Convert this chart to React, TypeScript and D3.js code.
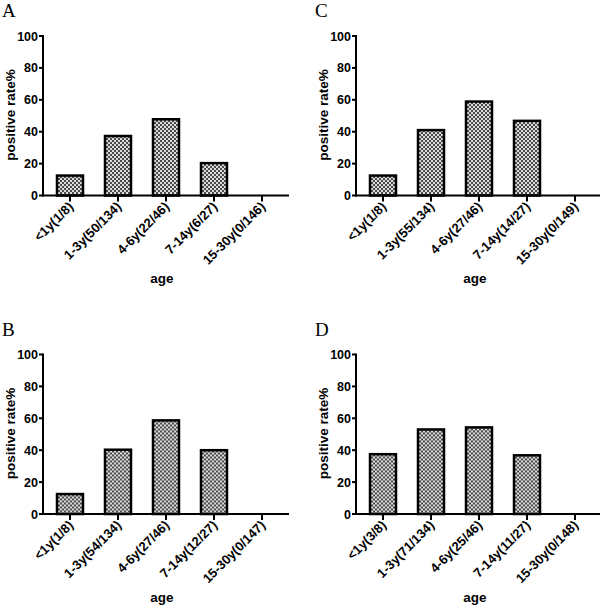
import React from "react";
import * as d3 from "d3";

const categoriesA = ["<1y(1/8)", "1-3y(50/134)", "4-6y(22/46)", "7-14y(6/27)", "15-30y(0/146)"];
const valuesA = [12.5, 37.3, 47.8, 20.3, 0];
const categoriesB = ["<1y(1/8)", "1-3y(54/134)", "4-6y(27/46)", "7-14y(12/27)", "15-30y(0/147)"];
const valuesB = [12.5, 40.3, 58.7, 40.0, 0];
const categoriesC = ["<1y(1/8)", "1-3y(55/134)", "4-6y(27/46)", "7-14y(14/27)", "15-30y(0/149)"];
const valuesC = [12.5, 41.0, 58.9, 46.8, 0];
const categoriesD = ["<1y(3/8)", "1-3y(71/134)", "4-6y(25/46)", "7-14y(11/27)", "15-30y(0/148)"];
const valuesD = [37.5, 53.0, 54.3, 36.8, 0];
const yTicks = [0, 20, 40, 60, 80, 100];
const panelLetters = ["A", "B", "C", "D"];
const yTitle = "positive rate%";
const xTitle = "age";

const SANS = "Liberation Sans, Arial, Helvetica, sans-serif";

type PanelProps = { ox: number; oy: number; letter: string; cats: string[]; vals: number[] };

function Panel({ ox, oy, letter, cats, vals }: PanelProps) {
  const x0 = 43, x1 = 289;
  const yBottom = 195.5, yTop = 36;
  const x = d3.scalePoint<string>().domain(cats).range([x0, x1]).padding(0.5625);
  const y = d3.scaleLinear().domain([0, 100]).range([yBottom, yTop]);
  const bw = 26;
  return (
    <g transform={`translate(${ox},${oy})`}>
      <text x={2} y={17} fontFamily="Liberation Serif, Times New Roman, serif" fontSize={19}>{letter}</text>
      {cats.map((c, i) => (
        <rect key={c} x={(x(c) as number) - bw / 2} y={y(vals[i])} width={bw}
          height={yBottom - y(vals[i])} fill="url(#checker)" stroke="#000" strokeWidth={2.5} />
      ))}
      <line x1={x0} x2={x0} y1={y(100) - 1} y2={yBottom + 1} stroke="#000" strokeWidth={2} />
      {yTicks.map((t) => (
        <g key={t}>
          <line x1={x0 - 4} x2={x0} y1={y(t)} y2={y(t)} stroke="#000" strokeWidth={2} />
          <text x={x0 - 5} y={y(t)} dy="0.36em" textAnchor="end" fontFamily={SANS}
            fontWeight="bold" fontSize={12.5}>{t}</text>
        </g>
      ))}
      <line x1={x0 - 1} x2={x1} y1={yBottom} y2={yBottom} stroke="#000" strokeWidth={2} />
      {cats.map((c) => (
        <g key={c}>
          <line x1={x(c) as number} x2={x(c) as number} y1={yBottom} y2={yBottom + 6} stroke="#000" strokeWidth={2} />
          <text transform={`translate(${(x(c) as number) + 4},${yBottom + 12}) rotate(-45)`}
            textAnchor="end" fontFamily={SANS} fontWeight="bold" fontSize={13}>{c}</text>
        </g>
      ))}
      <text transform={`translate(15,${115}) rotate(-90)`} textAnchor="middle" fontFamily={SANS}
        fontWeight="bold" fontSize={13.5}>{yTitle}</text>
      <text x={162} y={283} textAnchor="middle" fontFamily={SANS} fontWeight="bold" fontSize={13.5}>{xTitle}</text>
    </g>
  );
}

export default function App() {
  const panels = [
    { ox: 0, oy: 0, letter: panelLetters[0], cats: categoriesA, vals: valuesA },
    { ox: 0, oy: 318.5, letter: panelLetters[1], cats: categoriesB, vals: valuesB },
    { ox: 313, oy: 0, letter: panelLetters[2], cats: categoriesC, vals: valuesC },
    { ox: 313, oy: 318.5, letter: panelLetters[3], cats: categoriesD, vals: valuesD },
  ];
  return (
    <svg width={600} height={606} style={{ position: "absolute", left: 0, top: 0, background: "#fff" }}>
      <defs>
        <pattern id="checker" width={4} height={4} patternUnits="userSpaceOnUse">
          <rect width={4} height={4} fill="#dcdcdc" />
          <rect width={2} height={2} fill="#4a4a4a" />
          <rect x={2} y={2} width={2} height={2} fill="#4a4a4a" />
        </pattern>
      </defs>
      <rect width={600} height={606} fill="#fff" />
      {panels.map((p) => (
        <Panel key={p.letter} {...p} />
      ))}
    </svg>
  );
}
